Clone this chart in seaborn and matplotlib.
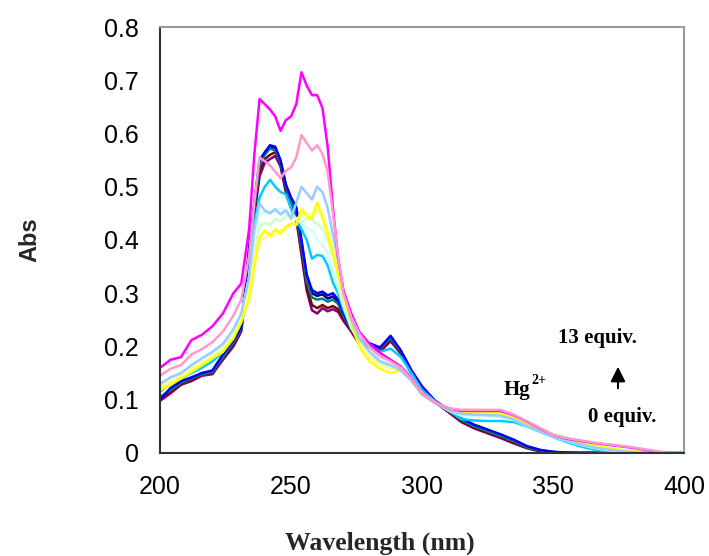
import pandas as pd
import seaborn as sns
import matplotlib.pyplot as plt

# wavelength grid (nm)
wl = [200, 204, 208, 212, 216, 220, 224, 228, 231, 234, 236, 238, 240, 242, 244,
      246, 248, 250, 252, 254, 256, 258, 260, 262, 264, 266, 268, 270, 273, 276,
      280, 284, 288, 292, 296, 300, 305, 310, 315, 320, 325, 330, 335, 340, 345,
      350, 355, 360, 365, 370, 375, 380, 385, 390, 395, 400]

# absorbance (0 -> 13 equiv. Hg2+)
navy = [0.100, 0.118, 0.133, 0.140, 0.150, 0.153, 0.182, 0.210, 0.233, 0.378,
        0.465, 0.545, 0.562, 0.575, 0.572, 0.548, 0.502, 0.476, 0.458, 0.395,
        0.330, 0.300, 0.295, 0.298, 0.290, 0.294, 0.284, 0.258, 0.233, 0.210,
        0.205, 0.197, 0.218, 0.190, 0.154, 0.124, 0.097, 0.081, 0.063, 0.052,
        0.043, 0.034, 0.024, 0.012, 0.005, 0.002, 0.000, 0.000, 0.000, 0.000,
        0.000, 0.000, 0.000, 0.000, 0.000, 0.000]
purple = [0.098, 0.112, 0.128, 0.135, 0.145, 0.148, 0.175, 0.200, 0.228, 0.352,
          0.445, 0.520, 0.545, 0.552, 0.558, 0.538, 0.490, 0.460, 0.440, 0.372,
          0.305, 0.268, 0.262, 0.272, 0.266, 0.270, 0.265, 0.248, 0.228, 0.205,
          0.200, 0.190, 0.210, 0.186, 0.148, 0.120, 0.095, 0.077, 0.058, 0.046,
          0.037, 0.028, 0.018, 0.009, 0.003, 0.001, 0.000, 0.000, 0.000, 0.000,
          0.000, 0.000, 0.000, 0.000, 0.000, 0.000]
maroon = [0.102, 0.115, 0.130, 0.138, 0.148, 0.150, 0.178, 0.205, 0.230, 0.360,
          0.450, 0.530, 0.552, 0.560, 0.565, 0.542, 0.495, 0.465, 0.445, 0.380,
          0.312, 0.278, 0.272, 0.278, 0.272, 0.276, 0.270, 0.252, 0.230, 0.208,
          0.202, 0.194, 0.214, 0.188, 0.150, 0.122, 0.096, 0.078, 0.060, 0.048,
          0.039, 0.030, 0.020, 0.010, 0.004, 0.001, 0.000, 0.000, 0.000, 0.000,
          0.000, 0.000, 0.000, 0.000, 0.000, 0.000]
teal = [0.105, 0.118, 0.132, 0.140, 0.148, 0.152, 0.180, 0.208, 0.232, 0.370,
        0.460, 0.540, 0.560, 0.572, 0.568, 0.545, 0.500, 0.472, 0.452, 0.390,
        0.322, 0.292, 0.288, 0.290, 0.284, 0.288, 0.280, 0.258, 0.232, 0.210,
        0.204, 0.196, 0.216, 0.190, 0.152, 0.123, 0.097, 0.080, 0.062, 0.050,
        0.041, 0.032, 0.022, 0.011, 0.005, 0.002, 0.000, 0.000, 0.000, 0.000,
        0.000, 0.000, 0.000, 0.000, 0.000, 0.000]
blue = [0.100, 0.122, 0.135, 0.142, 0.150, 0.155, 0.185, 0.212, 0.235, 0.385,
        0.470, 0.550, 0.565, 0.578, 0.575, 0.550, 0.505, 0.480, 0.462, 0.400,
        0.335, 0.306, 0.300, 0.303, 0.296, 0.300, 0.288, 0.262, 0.235, 0.212,
        0.206, 0.198, 0.220, 0.192, 0.155, 0.125, 0.098, 0.082, 0.065, 0.053,
        0.044, 0.035, 0.025, 0.013, 0.006, 0.002, 0.001, 0.000, 0.000, 0.000,
        0.000, 0.000, 0.000, 0.000, 0.000, 0.000]
sky_blue = [0.115, 0.130, 0.140, 0.150, 0.160, 0.172, 0.190, 0.220, 0.250, 0.330,
            0.430, 0.480, 0.500, 0.513, 0.500, 0.490, 0.486, 0.460, 0.438, 0.420,
            0.400, 0.365, 0.372, 0.370, 0.352, 0.320, 0.300, 0.270, 0.235, 0.215,
            0.200, 0.190, 0.196, 0.180, 0.150, 0.118, 0.097, 0.080, 0.064, 0.061,
            0.060, 0.060, 0.058, 0.050, 0.040, 0.030, 0.021, 0.013, 0.007, 0.003,
            0.000, 0.000, 0.000, 0.000, 0.000, 0.000]
light_cyan = [0.128, 0.138, 0.148, 0.160, 0.172, 0.185, 0.200, 0.225, 0.258, 0.330,
              0.410, 0.448, 0.452, 0.455, 0.452, 0.460, 0.455, 0.450, 0.440, 0.430,
              0.422, 0.418, 0.400, 0.390, 0.375, 0.340, 0.310, 0.275, 0.235, 0.210,
              0.190, 0.178, 0.172, 0.165, 0.142, 0.112, 0.095, 0.080, 0.070, 0.069,
              0.068, 0.067, 0.062, 0.051, 0.041, 0.031, 0.023, 0.016, 0.010, 0.006,
              0.003, 0.001, 0.000, 0.000, 0.000, 0.000]
light_green = [0.122, 0.132, 0.145, 0.158, 0.170, 0.182, 0.198, 0.222, 0.252, 0.310,
               0.380, 0.425, 0.432, 0.428, 0.440, 0.435, 0.445, 0.448, 0.440, 0.432,
               0.442, 0.438, 0.430, 0.420, 0.400, 0.370, 0.330, 0.290, 0.240, 0.205,
               0.182, 0.168, 0.162, 0.160, 0.140, 0.112, 0.095, 0.082, 0.076, 0.075,
               0.075, 0.075, 0.068, 0.056, 0.046, 0.036, 0.027, 0.020, 0.014, 0.010,
               0.006, 0.003, 0.001, 0.000, 0.000, 0.000]
pale_yellow = [0.125, 0.135, 0.145, 0.158, 0.170, 0.182, 0.195, 0.220, 0.250, 0.300,
               0.360, 0.395, 0.405, 0.412, 0.408, 0.420, 0.418, 0.432, 0.440, 0.445,
               0.450, 0.448, 0.455, 0.448, 0.420, 0.385, 0.345, 0.305, 0.255, 0.210,
               0.180, 0.165, 0.158, 0.158, 0.140, 0.112, 0.095, 0.083, 0.078, 0.077,
               0.077, 0.076, 0.068, 0.056, 0.046, 0.036, 0.028, 0.021, 0.015, 0.011,
               0.007, 0.004, 0.002, 0.000, 0.000, 0.000]
yellow = [0.118, 0.128, 0.140, 0.152, 0.165, 0.178, 0.190, 0.215, 0.245, 0.290,
          0.350, 0.405, 0.418, 0.408, 0.420, 0.412, 0.425, 0.430, 0.428, 0.458,
          0.445, 0.440, 0.470, 0.442, 0.410, 0.375, 0.335, 0.295, 0.245, 0.200,
          0.172, 0.158, 0.150, 0.155, 0.138, 0.110, 0.094, 0.082, 0.076, 0.075,
          0.075, 0.074, 0.066, 0.054, 0.044, 0.034, 0.026, 0.020, 0.014, 0.010,
          0.006, 0.003, 0.001, 0.000, 0.000, 0.000]
light_blue = [0.130, 0.142, 0.150, 0.165, 0.178, 0.190, 0.205, 0.232, 0.262, 0.330,
              0.420, 0.468, 0.455, 0.450, 0.458, 0.448, 0.456, 0.440, 0.470, 0.500,
              0.488, 0.476, 0.500, 0.490, 0.460, 0.410, 0.362, 0.305, 0.250, 0.215,
              0.190, 0.172, 0.165, 0.155, 0.135, 0.110, 0.094, 0.080, 0.073, 0.072,
              0.071, 0.070, 0.063, 0.051, 0.041, 0.031, 0.024, 0.017, 0.011, 0.007,
              0.004, 0.002, 0.001, 0.000, 0.000, 0.000]
magenta = [0.160, 0.175, 0.180, 0.212, 0.222, 0.238, 0.262, 0.300, 0.318, 0.420,
           0.560, 0.665, 0.655, 0.645, 0.632, 0.605, 0.625, 0.632, 0.655, 0.715,
           0.690, 0.672, 0.672, 0.648, 0.575, 0.460, 0.365, 0.305, 0.262, 0.228,
           0.205, 0.188, 0.175, 0.162, 0.140, 0.112, 0.095, 0.084, 0.079, 0.079,
           0.079, 0.079, 0.071, 0.059, 0.046, 0.034, 0.027, 0.023, 0.019, 0.016,
           0.013, 0.010, 0.006, 0.002, 0.000, 0.000]
pink = [0.145, 0.158, 0.165, 0.185, 0.195, 0.208, 0.228, 0.258, 0.288, 0.370,
        0.470, 0.555, 0.548, 0.540, 0.528, 0.516, 0.530, 0.536, 0.555, 0.597,
        0.582, 0.568, 0.578, 0.562, 0.528, 0.450, 0.370, 0.300, 0.255, 0.225,
        0.198, 0.182, 0.172, 0.160, 0.138, 0.112, 0.095, 0.084, 0.081, 0.081,
        0.081, 0.081, 0.072, 0.060, 0.047, 0.034, 0.028, 0.024, 0.020, 0.017,
        0.014, 0.011, 0.007, 0.003, 0.000, 0.000]

series = {
    'navy': navy, 'purple': purple, 'maroon': maroon, 'teal': teal,
    'blue': blue, 'sky_blue': sky_blue, 'light_cyan': light_cyan,
    'light_green': light_green, 'pale_yellow': pale_yellow, 'yellow': yellow,
    'light_blue': light_blue, 'magenta': magenta, 'pink': pink,
}
colors = {
    'navy': '#000080', 'purple': '#800080', 'maroon': '#800000', 'teal': '#008080',
    'blue': '#0000FF', 'sky_blue': '#00CCFF', 'light_cyan': '#CCFFFF',
    'light_green': '#CCFFCC', 'pale_yellow': '#FFFF99', 'yellow': '#FFFF00',
    'light_blue': '#99CCFF', 'magenta': '#FF00FF', 'pink': '#FF99CC',
}

df = pd.concat(
    [pd.DataFrame({'wl': wl, 'abs': vals, 'curve': name}) for name, vals in series.items()],
    ignore_index=True)

sns.set_style('white')
plt.rcParams['font.family'] = ['Liberation Sans', 'DejaVu Sans']

fig = plt.figure(figsize=(7.09, 5.56), dpi=100)
ax = fig.add_axes([0.2257, 0.1853, 0.7390, 0.7661])

sns.lineplot(data=df, x='wl', y='abs', hue='curve', hue_order=list(series.keys()),
             palette=colors, linewidth=1.8, legend=False, ax=ax)

ax.set_xlim(200, 400)
ax.set_ylim(0, 0.8)
ax.set_xticks([200, 250, 300, 350, 400])
ax.set_yticks([0, 0.1, 0.2, 0.3, 0.4, 0.5, 0.6, 0.7, 0.8])
ax.set_yticklabels(['0', '0.1', '0.2', '0.3', '0.4', '0.5', '0.6', '0.7', '0.8'])
ax.tick_params(direction='out', length=6, width=1, colors='black', labelsize=18)
ax.tick_params(axis='y', pad=9)
ax.tick_params(axis='x', pad=10)
ax.set_xlabel('')
ax.set_ylabel('')

for side in ['left', 'bottom']:
    ax.spines[side].set_color('#333333')
    ax.spines[side].set_linewidth(1.5)
for side in ['top', 'right']:
    ax.spines[side].set_color('#999999')
    ax.spines[side].set_linewidth(1.5)

fig.text(30 / 709, 1 - 240 / 556, 'Abs', rotation=90, ha='center', va='center',
         fontsize=17, fontweight='bold')
fig.text(380 / 709, 1 - 543 / 556, 'Wavelength (nm)', ha='center', va='center',
         fontsize=18.5, fontweight='bold', family='Liberation Serif')

serif = dict(fontweight='bold', family='Liberation Serif', color='black')
fig.text(597 / 709, 1 - 338 / 556, '13 equiv.', ha='center', va='center', fontsize=15, **serif)
fig.text(622 / 709, 1 - 417 / 556, '0 equiv.', ha='center', va='center', fontsize=15, **serif)
fig.text(504 / 709, 1 - 390 / 556, 'Hg', ha='left', va='center', fontsize=15, **serif)
fig.text(531 / 709, 1 - 381 / 556, '2+', ha='left', va='center', fontsize=10, **serif)
ax.annotate('', xy=(618 / 709, 1 - 364 / 556), xytext=(618 / 709, 1 - 391 / 556),
            xycoords='figure fraction', textcoords='figure fraction',
            arrowprops=dict(arrowstyle='-|>', color='black', lw=1.5, mutation_scale=22))

fig.savefig('out.png', dpi=100)
